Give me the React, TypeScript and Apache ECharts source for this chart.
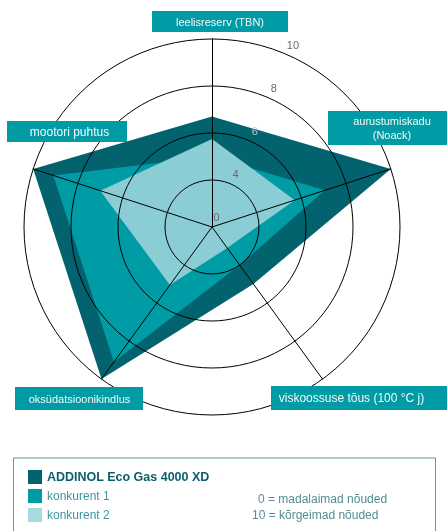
import React, { useEffect, useRef } from "react";
import * as echarts from "echarts";

// indicator order follows ECharts radar (counter-clockwise from the top)
const indicatorNames = [
  "leelisreserv (TBN)",
  "mootori puhtus",
  "oksüdatsioonikindlus",
  "viskoossuse tõus (100 °C j)",
  "aurustumiskadu\n(Noack)",
];
const seriesNames = ["ADDINOL Eco Gas 4000 XD", "konkurent 1", "konkurent 2"];
// values on the ring scale (centre = 2 … outer ring = 10)
const addinolValues = [6.7, 10, 10, 5.0, 10];
const konkurent1Values = [5.0, 9.1, 9.1, 4.0, 7.05];
const konkurent2Values = [5.75, 7.0, 5.05, 3.1, 5.7];
const ringValues = [2, 4, 6, 8, 10];
const tickLabels = ["0", "4", "6", "8", "10"];
const noteLines = ["0 = madalaimad nõuded", "10 = kõrgeimad nõuded"];

const seriesColors = ["#02636f", "#009ca5", "#8bcdd4"];
const legendColors = ["#02636f", "#009ca5", "#a7d9de"];
const tickColors = ["#6a6a6a", "#6a6a6a", "#b9c9cb", "#6a6a6a", "#6a6a6a"];

const CX = 212;
const CY = 227;
const R = 188;
const MIN = 2;
const MAX = 10;

export default function App() {
  const ref = useRef<HTMLDivElement>(null);
  useEffect(() => {
    if (!ref.current) return;
    const chart = echarts.init(ref.current, null, { renderer: "svg" });
    const ang = (24 * Math.PI) / 180;
    const rOf = (v: number) => ((v - MIN) / (MAX - MIN)) * R;

    const tickTexts = ringValues.map((v, i) => {
      const r = rOf(v) + 11;
      return {
        type: "text",
        x: CX + Math.sin(ang) * r,
        y: CY - Math.cos(ang) * r,
        z: 50,
        style: {
          text: tickLabels[i],
          fill: tickColors[i],
          font: "11px 'Liberation Sans', Arial, sans-serif",
          align: "center",
          verticalAlign: "middle",
        },
      };
    });

    const boxes = [
      { x: 152, y: 11, w: 136, h: 21, tx: 220, ty: 21.5, fs: 11 },
      { x: 7, y: 121, w: 120, h: 21, tx: 69.5, ty: 131.5, fs: 12 },
      { x: 15, y: 387, w: 128, h: 23, tx: 79.5, ty: 398.5, fs: 11 },
      { x: 271, y: 386, w: 190, h: 24, tx: 351.5, ty: 398, fs: 12 },
      { x: 328, y: 111, w: 130, h: 34, tx: 392, ty: 128, fs: 11 },
    ];
    const nameGraphics = boxes.map((b, i) => ({
      type: "group",
      z: 60,
      children: [
        {
          type: "rect",
          z: 60,
          shape: { x: b.x, y: b.y, width: b.w, height: b.h },
          style: { fill: "#009ba4" },
        },
        {
          type: "text",
          z: 61,
          x: b.tx,
          y: b.ty,
          style: {
            text: indicatorNames[i],
            fill: "#f2fafa",
            font: `${b.fs}px 'Liberation Sans', Arial, sans-serif`,
            align: "center",
            verticalAlign: "middle",
            lineHeight: 14,
          },
        },
      ],
    }));

    const option: any = {
      animation: false,
      radar: {
        center: [CX, CY],
        radius: R,
        startAngle: 90,
        shape: "circle",
        splitNumber: 4,
        z: 10,
        indicator: indicatorNames.map((n) => ({ name: n, min: MIN, max: MAX })),
        axisName: { show: false },
        axisLine: { lineStyle: { color: "#000", width: 1, opacity: 1 } },
        splitLine: { lineStyle: { color: "#000", width: 1 } },
        splitArea: { show: false },
        axisTick: { show: false },
        axisLabel: { show: false },
      },
      legend: {
        orient: "vertical",
        left: 28,
        top: 470,
        padding: 0,
        height: 60,
        itemWidth: 14,
        itemHeight: 14,
        itemGap: 5,
        icon: "rect",
        selectedMode: false,
        textStyle: {
          fontFamily: "'Liberation Sans', Arial, sans-serif",
          fontSize: 12,
        },
        data: seriesNames.map((n, i) => ({
          name: n,
          itemStyle: { color: legendColors[i] },
          textStyle:
            i === 0
              ? { fontWeight: "bold", color: "#0b5f6b", fontSize: 12.5 }
              : { color: "#3f979e", fontSize: 12 },
        })),
      },
      graphic: [
        {
          type: "rect",
          z: 0,
          shape: { x: 13.5, y: 458, width: 422, height: 100 },
          style: { fill: "none", stroke: "#5e9ba1", lineWidth: 1 },
        },
        {
          type: "text",
          x: 258,
          y: 499,
          style: {
            text: noteLines[0],
            fill: "#4f8e94",
            font: "12px 'Liberation Sans', Arial, sans-serif",
            verticalAlign: "middle",
          },
        },
        {
          type: "text",
          x: 252,
          y: 515,
          style: {
            text: noteLines[1],
            fill: "#4f8e94",
            font: "12px 'Liberation Sans', Arial, sans-serif",
            verticalAlign: "middle",
          },
        },
        ...tickTexts,
        ...nameGraphics,
      ],
      series: [
        {
          type: "radar",
          z: 2,
          symbol: "none",
          data: [addinolValues, konkurent1Values, konkurent2Values].map((vals, i) => ({
            name: seriesNames[i],
            value: vals,
            itemStyle: { color: seriesColors[i] },
            lineStyle: { width: 0, color: seriesColors[i] },
            areaStyle: { color: seriesColors[i], opacity: 1 },
          })),
        },
      ],
    };
    chart.setOption(option);
    return () => chart.dispose();
  }, []);
  return (
    <div
      ref={ref}
      style={{ position: "fixed", left: 0, top: 0, width: 447, height: 531 }}
    />
  );
}
